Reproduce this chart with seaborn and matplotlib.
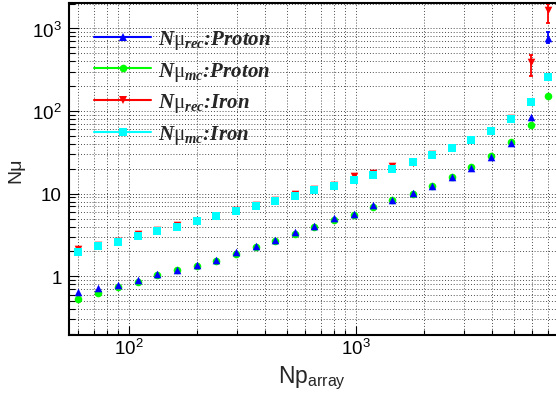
import numpy as np
import pandas as pd
import matplotlib
matplotlib.use("Agg")
import matplotlib.pyplot as plt
from matplotlib.lines import Line2D
from matplotlib.ticker import FixedLocator, FixedFormatter, NullFormatter
import seaborn as sns

# ---- data -------------------------------------------------------------
np_array = [60, 73.5, 90, 109.5, 133, 163, 199, 242, 297, 362, 441, 538, 657,
            802, 980, 1195, 1450, 1783, 2175, 2650, 3220, 3945, 4820, 5900, 7030]

nmu_rec_proton = [0.65, 0.72, 0.79, 0.89, 1.07, 1.20, 1.38, 1.59, 1.95, 2.35,
                  2.75, 3.47, 4.10, 5.04, 5.68, 7.30, 8.46, 10.1, 12.3, 16.1,
                  20.5, 27.6, 41.1, 84.1, 761]
nmu_mc_proton = [0.53, 0.62, 0.75, 0.85, 1.03, 1.18, 1.34, 1.55, 1.86, 2.24,
                 2.65, 3.28, 3.99, 4.76, 5.57, 6.90, 8.39, 10.0, 12.4, 16.0,
                 20.9, 28.4, 41.9, 67.9, 154]
nmu_rec_iron = [2.12, 2.37, 2.68, 3.28, 3.67, 4.21, 4.67, 5.37, 6.35, 7.24,
                8.32, 9.83, 11.3, 12.8, 16.5, 17.8, 21.7, 23.7, 30.0, 36.1,
                45.0, 58.0, 83.2, 390, 1675]
nmu_mc_iron = [1.95, 2.31, 2.62, 3.10, 3.54, 3.99, 4.63, 5.33, 6.12, 7.16,
               8.16, 9.46, 11.2, 12.5, 14.5, 16.8, 19.9, 24.0, 29.7, 35.8,
               44.7, 57.9, 80.3, 128, 261]

# asymmetric uncertainties (only the sparse high-Np bins are visible)
err_lo_rec_proton = [0] * 24 + [99]
err_hi_rec_proton = [0] * 24 + [138]
err_lo_rec_iron = [0] * 23 + [126, 509]
err_hi_rec_iron = [0] * 23 + [92, 325]

labels = [r"$\mathit{N}\mathrm{\mu}_{\mathit{rec}}$:Proton",
          r"$\mathit{N}\mathrm{\mu}_{\mathit{mc}}$:Proton",
          r"$\mathit{N}\mathrm{\mu}_{\mathit{rec}}$:Iron",
          r"$\mathit{N}\mathrm{\mu}_{\mathit{mc}}$:Iron"]
x_ticks = [100, 1000]
x_ticklabels = [r"$\mathsf{10^{2}}$", r"$\mathsf{10^{3}}$"]
y_ticks = [1, 10, 100, 1000]
y_ticklabels = ["1", "10", r"$\mathsf{10^{2}}$", r"$\mathsf{10^{3}}$"]

# ---- style ------------------------------------------------------------
sns.set_style("ticks")
plt.rcParams["font.family"] = ["Liberation Sans", "DejaVu Sans"]
plt.rcParams["mathtext.fontset"] = "custom"
plt.rcParams["mathtext.rm"] = "Liberation Serif"
plt.rcParams["mathtext.it"] = "Liberation Serif:italic:bold"
plt.rcParams["mathtext.bf"] = "Liberation Serif:bold"
plt.rcParams["mathtext.sf"] = "Liberation Sans"

BLUE, GREEN, RED, CYAN = "#0000ff", "#00ff00", "#ff0000", "#00ffff"

fig = plt.figure(figsize=(5.56, 4.02), dpi=100)
W, H = 556.0, 402.0
left, right, top, bottom = 68.7, 556.0, 4.0, 335.7
ax = fig.add_axes([left / W, 1 - bottom / H, (right - left) / W, (bottom - top) / H])

ax.set_xscale("log")
ax.set_yscale("log")
ax.set_xlim(54.4, 7629)
ax.set_ylim(0.196, 2035)

df = pd.DataFrame({
    "np": np_array,
    "rec_p": nmu_rec_proton,
    "mc_p": nmu_mc_proton,
    "rec_fe": nmu_rec_iron,
    "mc_fe": nmu_mc_iron,
})

ms_area = 30
series = [
    ("rec_fe", RED, "v"),
    ("mc_fe", CYAN, "s"),
    ("mc_p", GREEN, "o"),
    ("rec_p", BLUE, "^"),
]
for col, color, marker in series:
    sns.scatterplot(data=df, x="np", y=col, ax=ax, color=color, marker=marker,
                    s=ms_area, linewidth=0, zorder=3, legend=False)

# error bars where an uncertainty is given
for yv, lo, hi, color in [(nmu_rec_iron, err_lo_rec_iron, err_hi_rec_iron, RED),
                          (nmu_rec_proton, err_lo_rec_proton, err_hi_rec_proton, BLUE)]:
    idx = [i for i in range(len(yv)) if lo[i] > 0 or hi[i] > 0]
    ax.errorbar([np_array[i] for i in idx], [yv[i] for i in idx],
                yerr=[[lo[i] for i in idx], [hi[i] for i in idx]],
                fmt="none", ecolor=color, elinewidth=1.3, capsize=1.6,
                capthick=1.3, zorder=2.5)

# ---- axes cosmetics ---------------------------------------------------
ax.xaxis.set_major_locator(FixedLocator(x_ticks))
ax.xaxis.set_major_formatter(FixedFormatter(x_ticklabels))
ax.xaxis.set_minor_formatter(NullFormatter())
ax.yaxis.set_major_locator(FixedLocator(y_ticks))
ax.yaxis.set_major_formatter(FixedFormatter(y_ticklabels))
ax.yaxis.set_minor_formatter(NullFormatter())

ax.tick_params(axis="both", which="both", direction="in", colors="black",
               labelsize=13.5, width=0.8)
ax.tick_params(axis="x", which="major", length=6.5, pad=2.5)
ax.tick_params(axis="x", which="minor", length=3.5)
ax.tick_params(axis="y", which="major", length=7.5, pad=5)
ax.tick_params(axis="y", which="minor", length=4)

ax.grid(True, which="both", color="#333333", linestyle=(0, (1, 2.2)), linewidth=0.65)
ax.set_axisbelow(True)

for s in ["left", "bottom", "top"]:
    ax.spines[s].set_linewidth(1.5)
    ax.spines[s].set_color("black")
ax.spines["right"].set_visible(False)

ax.set_xlabel(r"Np$_{\mathsf{array}}$", fontsize=16.5)
ax.set_ylabel("Nμ", fontsize=14)
ax.xaxis.set_label_coords(0.5, -0.086)
ax.yaxis.set_label_coords(-0.09, 0.5)

# ---- legend -----------------------------------------------------------
handles = [Line2D([0], [0], color=c, marker=m, markersize=5.5, lw=1.5,
                  markeredgewidth=0)
           for c, m in [(BLUE, "^"), (GREEN, "o"), (RED, "v"), (CYAN, "s")]]
leg = ax.legend(handles, labels, loc="upper left", bbox_to_anchor=(0.035, 0.95),
                frameon=False, handlelength=2.75, handletextpad=0.3,
                labelspacing=0.42, borderaxespad=0,
                prop={"family": "Liberation Serif", "weight": "bold",
                      "style": "italic", "size": 15})

fig.savefig("out.png", dpi=100)
